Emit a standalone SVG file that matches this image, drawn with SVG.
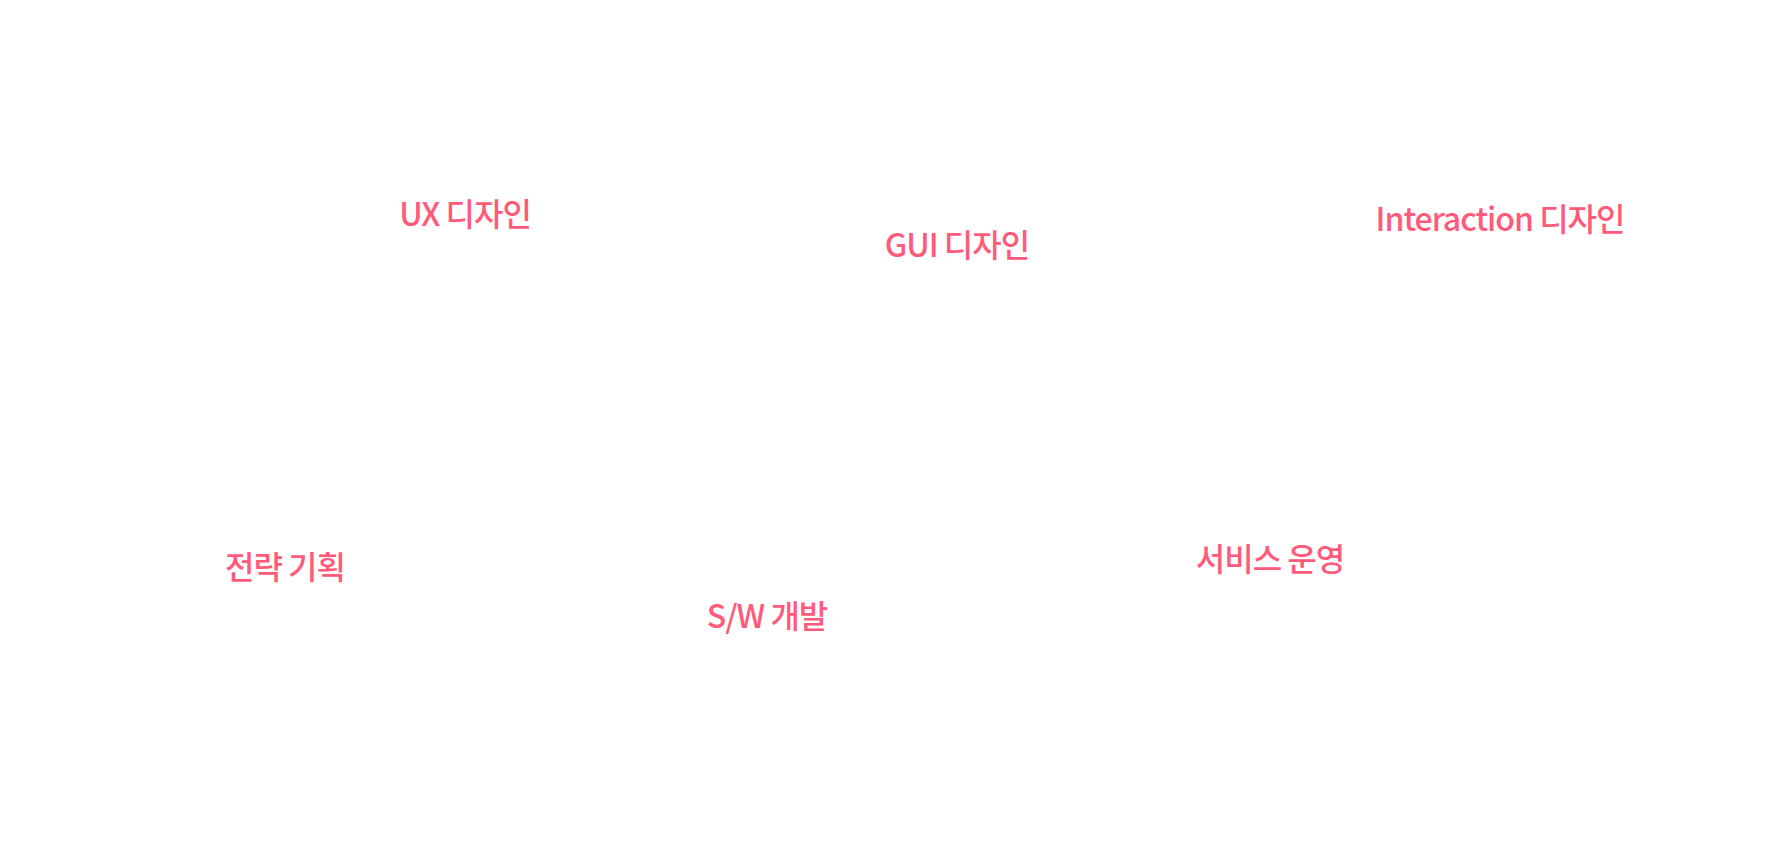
<svg xmlns="http://www.w3.org/2000/svg" width="1780" height="844" viewBox="0 0 1780 844">
<style>
.l{font-family:"Noto Sans CJK KR","Noto Sans",sans-serif;font-size:32px;font-weight:500;fill:#ff5a7a;text-anchor:middle;letter-spacing:-1px}
</style>
<rect width="1780" height="844" fill="#ffffff"/>
<g id="connectors"></g>
<g id="ux"><text class="l" x="465" y="226">UX 디자인</text></g>
<g id="gui"><text class="l" x="957" y="257">GUI 디자인</text></g>
<g id="interaction"><text class="l" x="1500" y="231">Interaction 디자인</text></g>
<g id="strategy"><text class="l" x="285" y="579">전략 기획</text></g>
<g id="sw"><text class="l" x="767" y="628">S/W 개발</text></g>
<g id="service"><text class="l" x="1270" y="571">서비스 운영</text></g>
</svg>
